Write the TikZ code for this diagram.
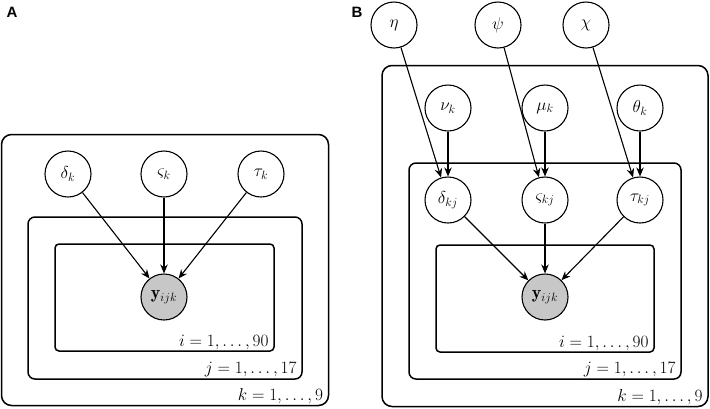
\documentclass[tikz,border=0pt]{standalone}
\usepackage{fontspec}
\usetikzlibrary{arrows.meta}
\newfontfamily\panelfont{Liberation Sans}
\begin{document}
\begin{tikzpicture}[x=1pt,y=-1pt,
  var/.style={circle,draw,line width=1.1pt,minimum size=46pt,inner sep=0pt,font=\fontsize{18}{22}\selectfont},
  obs/.style={var,fill=black!22},
  plate/.style={draw,line width=1.5pt,inner sep=0pt},
  platelbl/.style={anchor=base east,inner sep=0pt,font=\fontsize{18}{22}\selectfont},
  edge/.style={-{Stealth[length=9pt,width=7.5pt,inset=3pt]},line width=1.1pt},
  panel/.style={font=\panelfont\bfseries\fontsize{15}{17}\selectfont,inner sep=0pt}]
\useasboundingbox (0,0) rectangle (710,408);
% panel labels
\node[panel] (lA) at (12,12) {A};
\node[panel] (lB) at (357,12) {B};
% ---------- Panel A ----------
\node[plate,rounded corners=10pt,minimum width=327pt,minimum height=271pt] (kA) at (165,270) {};
\node[plate,rounded corners=7pt,minimum width=274pt,minimum height=162pt] (jA) at (165,298) {};
\node[plate,rounded corners=4pt,minimum width=219pt,minimum height=107pt] (iA) at (164.5,297.5) {};
\node[platelbl] (kAl) at ([shift={(-6,-6)}]kA.south east) {$k=1,\ldots,9$};
\node[platelbl] (jAl) at ([shift={(-6,-6)}]jA.south east) {$j=1,\ldots,17$};
\node[platelbl] (iAl) at ([shift={(-6,-5)}]iA.south east) {$i=1,\ldots,90$};
\node[var] (dA) at (68,174) {$\delta_k$};
\node[var] (sA) at (164,174) {$\varsigma_k$};
\node[var] (tA) at (261,174) {$\tau_k$};
\node[obs] (yA) at (164,297) {$\mathbf{y}_{ijk}$};
\draw[edge] (dA) -- (yA);
\draw[edge] (sA) -- (yA);
\draw[edge] (tA) -- (yA);
% ---------- Panel B ----------
\node[plate,rounded corners=10pt,minimum width=326pt,minimum height=341pt] (kB) at (545,236) {};
\node[plate,rounded corners=7pt,minimum width=272pt,minimum height=216pt] (jB) at (545,271) {};
\node[plate,rounded corners=4pt,minimum width=218pt,minimum height=107pt] (iB) at (545,298.5) {};
\node[platelbl] (kBl) at ([shift={(-6,-6)}]kB.south east) {$k=1,\ldots,9$};
\node[platelbl] (jBl) at ([shift={(-6,-6)}]jB.south east) {$j=1,\ldots,17$};
\node[platelbl] (iBl) at ([shift={(-6,-5)}]iB.south east) {$i=1,\ldots,90$};
\node[var] (eta) at (394,25) {$\eta$};
\node[var] (psi) at (498,25) {$\psi$};
\node[var] (chi) at (586,25) {$\chi$};
\node[var] (nu) at (448,108) {$\nu_k$};
\node[var] (mu) at (545,108) {$\mu_k$};
\node[var] (th) at (640,108) {$\theta_k$};
\node[var] (dB) at (448,200) {$\delta_{kj}$};
\node[var] (sB) at (545,200) {$\varsigma_{kj}$};
\node[var] (tB) at (640,200) {$\tau_{kj}$};
\node[obs] (yB) at (545,297) {$\mathbf{y}_{ijk}$};
\draw[edge] (eta) -- (dB);
\draw[edge] (psi) -- (sB);
\draw[edge] (chi) -- (tB);
\draw[edge] (nu) -- (dB);
\draw[edge] (mu) -- (sB);
\draw[edge] (th) -- (tB);
\draw[edge] (dB) -- (yB);
\draw[edge] (sB) -- (yB);
\draw[edge] (tB) -- (yB);
\end{tikzpicture}
\end{document}
